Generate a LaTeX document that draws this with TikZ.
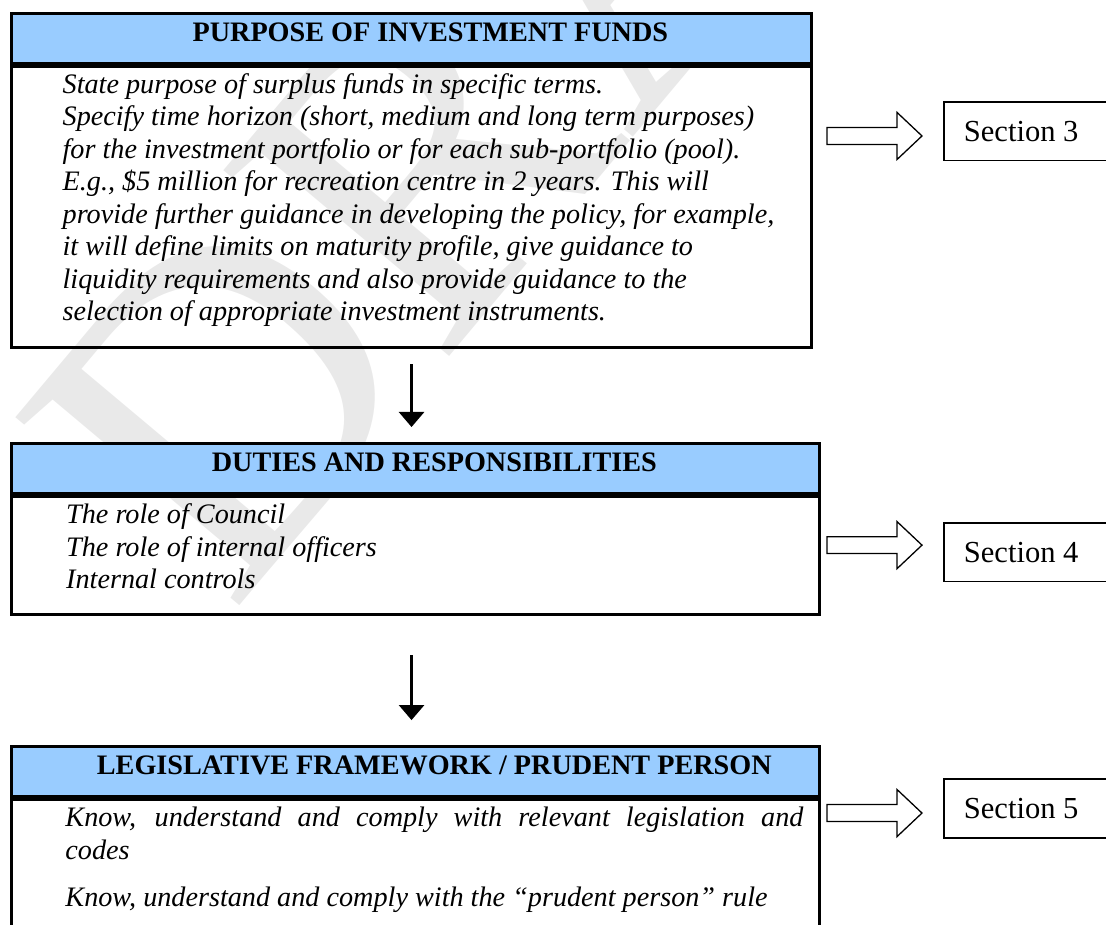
\documentclass[tikz,border=0pt]{standalone}
\usepackage{fontspec}
\setmainfont{Liberation Serif}
\usetikzlibrary{arrows.meta,calc}
\definecolor{headblue}{RGB}{153,204,255}
\tikzset{
  head/.style={draw, line width=1.3pt, fill=headblue, anchor=north west,
    inner xsep=0pt, inner ysep=2pt, text height=9.9pt, text depth=7.4pt,
    font=\fontsize{12}{14}\selectfont\bfseries},
  frame/.style={draw, line width=1.3pt, anchor=north west, inner sep=0pt},
  bodytext/.style={anchor=north west, align=flush left, text width=330pt, inner sep=0pt,
    text height=8.9pt, font=\fontsize{12}{13.8}\selectfont\itshape},
  sect/.style={draw, line width=0.7pt, fill=white, anchor=north west,
    minimum width=75pt, minimum height=25pt, inner xsep=8.5pt,
    text width=58pt, align=flush left, font=\fontsize{13}{15}\selectfont},
  flow/.style={line width=1.3pt, -{Triangle[width=10.6pt,length=6.4pt]}},
  blockarrow/.pic={
    \draw[line width=0.55pt, fill=white] (-40.4,-3.6) -- (-10.6,-3.6) -- (-10.6,-10)
      -- (0,0) -- (-10.6,10) -- (-10.6,3.6) -- (-40.4,3.6) -- cycle;
  }
}
\begin{document}
\begin{tikzpicture}[x=1pt,y=1pt]
  \useasboundingbox (0,0) rectangle (470.6,-393.2);

  % watermark
  \node[font=\fontsize{190}{190}\selectfont, text=gray!17, rotate=50, inner sep=0pt] (draftmark) at (251,17) {DRAFT};

  % purpose
  \node[head, minimum width=340.4pt] (purposehead) at (4.26,-5.1) {\hspace*{16pt}PURPOSE OF INVESTMENT FUNDS};
  \node[frame, minimum width=340.4pt, minimum height=119.6pt] (purposebody) at (purposehead.south west) {};
  \node[bodytext] (purposetext) at ([xshift=22.2pt,yshift=-3pt]purposebody.north west) {%
    State purpose of surplus funds in specific terms.\\
    Specify time horizon (short, medium and long term purposes)\\
    for the investment portfolio or for each sub-portfolio (pool).\\
    E.g., \$5 million for recreation centre in 2 years. This will\\
    provide further guidance in developing the policy, for example,\\
    it will define limits on maturity profile, give guidance to\\
    liquidity requirements and also provide guidance to the\\
    selection of appropriate investment instruments.};

  % duties
  \node[head, minimum width=343.8pt] (dutieshead) at (4.26,-188.1) {\hspace*{16pt}DUTIES AND RESPONSIBILITIES};
  \node[frame, minimum width=343.8pt, minimum height=50.3pt] (dutiesbody) at (dutieshead.south west) {};
  \node[bodytext] (dutiestext) at ([xshift=23.7pt,yshift=-3pt]dutiesbody.north west) {%
    The role of Council\\
    The role of internal officers\\
    Internal controls};

  % legislation
  \node[head, minimum width=343.8pt] (legalhead) at (4.26,-317.0) {\hspace*{16pt}LEGISLATIVE FRAMEWORK / PRUDENT PERSON};
  \node[frame, minimum width=343.8pt, minimum height=90pt] (legalbody) at (legalhead.south west) {};
  \node[bodytext] (legaltext) at ([xshift=23.4pt,yshift=-3pt]legalbody.north west) {%
    {\spaceskip=0.25em plus 3em\makebox[314pt][s]{Know, understand and comply with relevant legislation and}}\\
    codes\\[6.6pt]
    Know, understand and comply with the “prudent person” rule};

  % sections
  \node[sect] (sec3) at (401.3,-43.0) {Section 3};
  \node[sect] (sec4) at (401.3,-222.1) {Section 4};
  \node[sect] (sec5) at (401.3,-331.1) {Section 5};

  \pic at ([xshift=-9pt,yshift=-2pt]sec3.west) {blockarrow};
  \pic at ([xshift=-9pt,yshift=3pt]sec4.west) {blockarrow};
  \pic at ([xshift=-9pt,yshift=-2pt]sec5.west) {blockarrow};

  % flow
  \draw[flow, shorten <=6.3pt, shorten >=6.4pt] (purposebody.south) -- (purposebody.south |- dutieshead.north);
  \draw[flow, shorten <=16.5pt, shorten >=10.6pt] (dutiesbody.south -| purposebody.south) -- (legalhead.north -| purposebody.south);
\end{tikzpicture}
\end{document}
